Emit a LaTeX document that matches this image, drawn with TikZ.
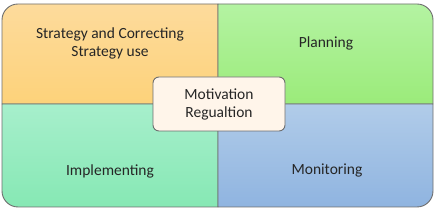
\documentclass[tikz,border=0pt]{standalone}
\usepackage{fontspec}
\setmainfont{Carlito}
\definecolor{edgegray}{HTML}{6E6E6E}
\definecolor{txtgray}{HTML}{262626}
\begin{document}
\begin{tikzpicture}[x=1pt,y=1pt,line join=round,
  quad/.style={draw=edgegray,line width=0.9pt},
  label/.style={text=txtgray,font=\fontsize{15.5}{18}\selectfont,align=center},
  centrebox/.style={draw=edgegray,line width=0.9pt,fill=centrefill,rounded corners=6pt,
    minimum width=132pt,minimum height=54pt}]
  \definecolor{centrefill}{HTML}{FFF5EA}
  \useasboundingbox (0,0) rectangle (440,208);
  \shade[quad,top color={rgb,255:red,253;green,219;blue,156},bottom color={rgb,255:red,253;green,210;blue,122}]
    (218,104) -- (2,104) -- (2,188) arc[start angle=180,end angle=90,radius=16] -- (218,204) -- cycle;
  \shade[quad,top color={rgb,255:red,180;green,243;blue,162},bottom color={rgb,255:red,155;green,235;blue,122}]
    (218,104) -- (218,204) -- (417,204) arc[start angle=90,end angle=0,radius=16] -- (433,104) -- cycle;
  \shade[quad,top color={rgb,255:red,167;green,239;blue,204},bottom color={rgb,255:red,134;green,232;blue,180}]
    (218,104) -- (2,104) -- (2,17) arc[start angle=180,end angle=270,radius=16] -- (218,1) -- cycle;
  \shade[quad,top color={rgb,255:red,177;green,204;blue,233},bottom color={rgb,255:red,143;green,180;blue,224}]
    (218,104) -- (433,104) -- (433,17) arc[start angle=0,end angle=-90,radius=16] -- (218,1) -- cycle;
  \node[label] (strategy) at (110,165) {Strategy and Correcting\\Strategy use};
  \node[label] (planning) at (326,165) {Planning};
  \node[label] (implementing) at (110,37) {Implementing};
  \node[label] (monitoring) at (327,37) {Monitoring};
  \node[centrebox,label] (motivation) at (219,104) {Motivation\\Regualtion};
\end{tikzpicture}
\end{document}
